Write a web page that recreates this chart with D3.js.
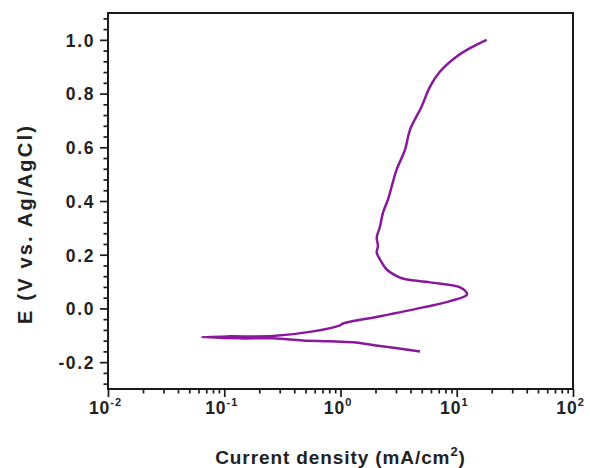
<!DOCTYPE html>
<html>
<head>
<meta charset="utf-8">
<script src="https://cdn.jsdelivr.net/npm/d3@7"></script>
<style>
  body { margin: 0; background: #fff; }
  text { font-family: "Liberation Sans", Arial, sans-serif; font-weight: bold; fill: #222; }
</style>
</head>
<body>
<script>
// polarization curve (sweep from cathodic end up to 1.0 V)
var current = [4.83, 2.19, 1.28, 0.81, 0.475, 0.262, 0.136, 0.064,
               0.11, 0.262, 0.58, 0.99, 1.05, 2.19, 5.13, 8.75, 12.25,
               10.7, 5.89, 3.73, 3.25, 2.50, 2.19, 2.05, 2.10, 2.05, 2.19,
               2.32, 2.56, 2.76, 3.04, 3.59, 3.96, 4.99, 5.89, 7.18, 10.0, 13.0, 18.1];
var potential = [-0.160, -0.140, -0.126, -0.122, -0.119, -0.1115, -0.1115, -0.1067,
                 -0.104, -0.103, -0.0855, -0.063, -0.056, -0.029, 0.004, 0.027, 0.052,
                 0.078, 0.097, 0.108, 0.115, 0.145, 0.182, 0.208, 0.232, 0.264, 0.306,
                 0.357, 0.405, 0.455, 0.517, 0.591, 0.665, 0.752, 0.826, 0.882, 0.938, 0.969, 1.0];

var yTicks = [-0.2, 0.0, 0.2, 0.4, 0.6, 0.8, 1.0];
var xExponents = [-2, -1, 0, 1, 2];

var W = 590, H = 468;
var pLeft = 108, pRight = 573, pTop = 13, pBottom = 389;
var lineColor = "#8a189c";

var svg = d3.select("body").append("svg")
  .attr("width", W)
  .attr("height", H);

var x = d3.scaleLog().domain([0.01, 100]).range([pLeft, pRight]);
var y = d3.scaleLinear().domain([-0.3, 1.1]).range([pBottom, pTop]);

// minor ticks
var xMinor = [];
for (var e = -2; e < 2; e++) {
  for (var k = 2; k <= 9; k++) xMinor.push(k * Math.pow(10, e));
}
var yMinor = [];
for (var n = -7; n <= 27; n++) {   // every 0.04, skip the labelled ones
  if (n % 5 != 0) yMinor.push(n * 0.04);
}

function styleAxis(g) {
  g.select(".domain").remove();
  g.selectAll(".tick line").attr("stroke", "#1a1a1a").attr("stroke-width", 1.7);
}

svg.append("g").attr("transform", "translate(0," + pBottom + ")")
  .call(d3.axisBottom(x).tickValues(xMinor).tickSize(4.5).tickFormat(""))
  .call(styleAxis);
svg.append("g").attr("transform", "translate(" + pLeft + ",0)")
  .call(d3.axisLeft(y).tickValues(yMinor).tickSize(4.5).tickFormat(""))
  .call(styleAxis);

// major y
var yAxis = svg.append("g").attr("transform", "translate(" + pLeft + ",0)")
  .call(d3.axisLeft(y).tickValues(yTicks).tickSize(8).tickPadding(5)
    .tickFormat(function (d) { return d3.format(".1f")(d).replace("\u2212", "-"); }))
  .call(styleAxis);
yAxis.selectAll(".tick text")
  .style("font-size", "17.5px")
  .style("letter-spacing", "1.6px")
  .attr("dy", "0.36em");

// major x
var xAxis = svg.append("g").attr("transform", "translate(0," + pBottom + ")")
  .call(d3.axisBottom(x).tickValues(xExponents.map(function (e) { return Math.pow(10, e); }))
    .tickSize(8).tickFormat(""))
  .call(styleAxis);
xAxis.selectAll(".tick").each(function (d, i) {
  var t = d3.select(this).append("text")
    .attr("y", 25)
    .attr("x", -3)
    .attr("text-anchor", "middle")
    .style("font-size", "17.5px")
    .style("letter-spacing", "1px");
  t.append("tspan").text("10");
  t.append("tspan").attr("dy", -8).style("font-size", "11px").text(xExponents[i] < 0 ? "-" + (-xExponents[i]) : xExponents[i]);
});

// frame
svg.append("rect")
  .attr("x", pLeft).attr("y", pTop)
  .attr("width", pRight - pLeft).attr("height", pBottom - pTop)
  .attr("fill", "none").attr("stroke", "#1a1a1a").attr("stroke-width", 2);

// curve
var pts = current.map(function (c, i) { return [c, potential[i]]; });
var line = d3.line()
  .x(function (d) { return x(d[0]); })
  .y(function (d) { return y(d[1]); })
  .curve(d3.curveCatmullRom.alpha(0.5));

svg.append("path")
  .datum(pts)
  .attr("d", line)
  .attr("fill", "none")
  .attr("stroke", lineColor)
  .attr("stroke-width", 2.5)
  .attr("stroke-linejoin", "round");

// titles
var xt = svg.append("text")
  .attr("x", (pLeft + pRight) / 2)
  .attr("y", 464)
  .attr("text-anchor", "middle")
  .style("font-size", "19px")
  .style("letter-spacing", "0.9px");
xt.append("tspan").text("Current density  (mA/cm");
xt.append("tspan").attr("dy", -8).style("font-size", "13px").text("2");
xt.append("tspan").attr("dy", 8).text(")");

svg.append("text")
  .attr("transform", "translate(32,224) rotate(-90)")
  .attr("text-anchor", "middle")
  .style("font-size", "20px")
  .style("letter-spacing", "2.2px")
  .text("E (V vs. Ag/AgCl)");
</script>
</body>
</html>
